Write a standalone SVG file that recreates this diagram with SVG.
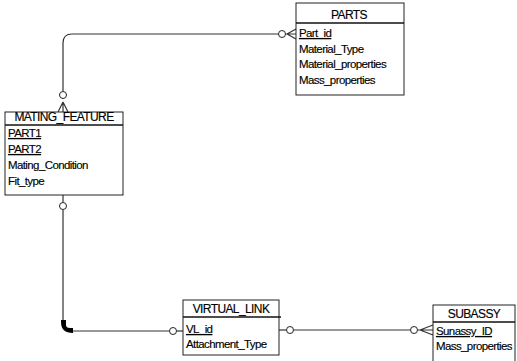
<svg xmlns="http://www.w3.org/2000/svg" width="517" height="361" viewBox="0 0 517 361">
<style>
.box{fill:#fff;stroke:#222;stroke-width:1}
.sep{stroke:#111;stroke-width:1.3}
.t{font-family:"Liberation Sans",Arial,sans-serif;font-size:11.5px;letter-spacing:-0.6px;fill:#000;stroke:#000;stroke-width:0.15}
.ttl{text-anchor:middle;font-size:12px}
.k{text-decoration:underline}
.ln{fill:none;stroke:#333;stroke-width:1.2}
.c{fill:#fff;stroke:#222;stroke-width:1}
</style>
<rect width="517" height="361" fill="#fff"/>
<g id="connectors">
<path class="ln" d="M279,34 H72 Q63,34 63,43 V91"/>
<circle class="c" cx="63" cy="95" r="3.5"/>
<path class="ln" d="M63,102 L58,112 M63,102 L63,112 M63,102 L68,112"/>
<circle class="c" cx="282" cy="34" r="3.5"/>
<path class="ln" d="M286,34 H296 M287,34 L296,29 M287,34 L296,39"/>
<path class="ln" d="M63,195 V202"/>
<circle class="c" cx="63" cy="206" r="3.5"/>
<path class="ln" d="M63,210 V322 Q63,331 72,331 H169"/>
<path d="M61,320 H66 V325 Q66,328 70,328 H73 V333 Q61,333 61,322 Z" fill="#000"/>
<circle class="c" cx="173" cy="331" r="3.5"/>
<path class="ln" d="M177,331 H183"/>
<path class="ln" d="M279,330 H286"/>
<circle class="c" cx="290" cy="330" r="3.5"/>
<path class="ln" d="M294,330 H410"/>
<circle class="c" cx="414" cy="330" r="3.5"/>
<path class="ln" d="M418,330 H433 M420,330 L433,325 M420,330 L433,335"/>
</g>
<g id="PARTS">
<rect class="box" x="296" y="3" width="108" height="92"/>
<line class="sep" x1="296" y1="23" x2="404" y2="23"/>
<text class="t ttl" x="349" y="19">PARTS</text>
<text class="t k" x="299" y="37">Part_id</text>
<text class="t" x="299" y="53">Material_Type</text>
<text class="t" x="299" y="68">Material_properties</text>
<text class="t" x="299" y="84">Mass_properties</text>
</g>
<g id="MATING_FEATURE">
<rect class="box" x="5" y="112" width="118" height="83"/>
<line class="sep" x1="5" y1="125" x2="123" y2="125"/>
<text class="t ttl" x="64" y="121">MATING_FEATURE</text>
<text class="t k" x="8" y="137">PART1</text>
<text class="t k" x="8" y="153">PART2</text>
<text class="t" x="8" y="169">Mating_Condition</text>
<text class="t" x="8" y="185">Fit_type</text>
</g>
<g id="VIRTUAL_LINK">
<rect class="box" x="183" y="300" width="96" height="55"/>
<line class="sep" x1="183" y1="317" x2="281" y2="317"/>
<text class="t ttl" x="231" y="313">VIRTUAL_LINK</text>
<text class="t k" x="186" y="333">VL_id</text>
<text class="t" x="186" y="348">Attachment_Type</text>
</g>
<g id="SUBASSY">
<rect class="box" x="433" y="305" width="82" height="60"/>
<line class="sep" x1="433" y1="322" x2="515" y2="322"/>
<text class="t ttl" x="474" y="318">SUBASSY</text>
<text class="t k" x="436" y="335">Sunassy_ID</text>
<text class="t" x="436" y="350">Mass_properties</text>
</g>
</svg>
